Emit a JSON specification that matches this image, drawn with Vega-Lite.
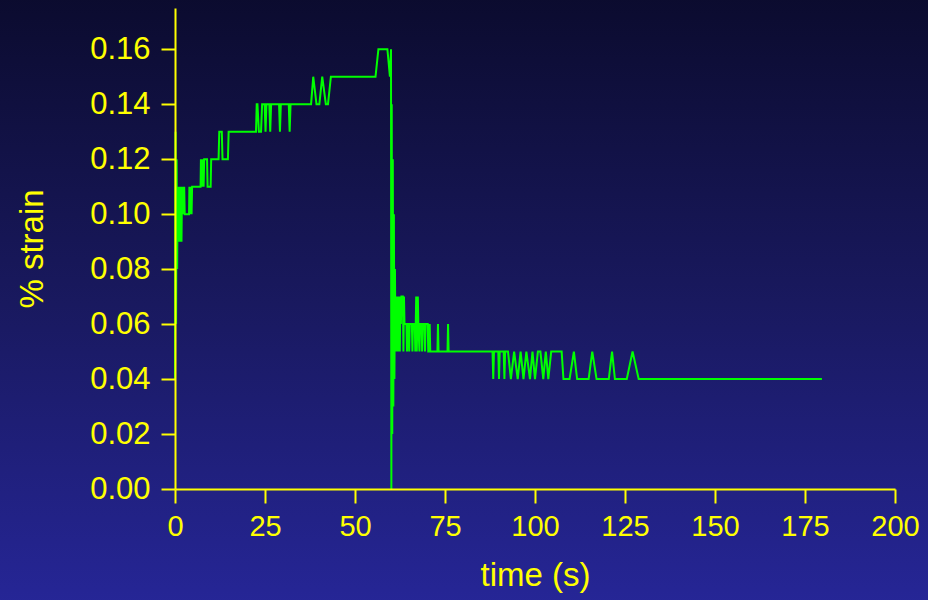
{
  "$schema": "https://vega.github.io/schema/vega-lite/v6.json",
  "width": 720,
  "height": 481,
  "autosize": {"type": "none"},
  "padding": {"left": 175, "top": 8, "right": 33, "bottom": 111},
  "background": "#181862",
  "config": {
    "view": {"stroke": null},
    "axis": {
      "domainColor": "#ffff00", "domainWidth": 2,
      "tickColor": "#ffff00", "tickWidth": 2, "tickSize": 14,
      "labelColor": "#ffff00", "titleColor": "#ffff00",
      "labelFont": "Liberation Sans", "titleFont": "Liberation Sans",
      "labelFontSize": 28, "titleFontSize": 33, "titleFontWeight": "normal",
      "grid": false, "labelFlush": false, "labelOverlap": false
    }
  },
  "layer": [
    {
      "data": {"values": [{}]},
      "mark": {
        "type": "rect",
        "fill": {"gradient": "linear", "x1": 0, "y1": 0, "x2": 0, "y2": 1,
          "stops": [{"offset": 0, "color": "#0b0b2e"}, {"offset": 0.5, "color": "#19195f"}, {"offset": 1, "color": "#262698"}]}
      },
      "encoding": {
        "x": {"datum": -50, "type": "quantitative",
          "scale": {"domain": [0, 200], "nice": false, "zero": false},
          "axis": {"title": "time (s)", "values": [0, 25, 50, 75, 100, 125, 150, 175, 200], "labelFontSize": 29, "labelPadding": 9, "titleFontSize": 33, "titlePadding": 18, "zindex": 2}},
        "x2": {"datum": 212},
        "y": {"datum": -0.045, "type": "quantitative",
          "scale": {"domain": [0, 0.175], "nice": false, "zero": false},
          "axis": {"title": "% strain", "values": [0, 0.02, 0.04, 0.06, 0.08, 0.1, 0.12, 0.14, 0.16], "format": ".2f", "labelPadding": 11, "labelFontSize": 31, "titlePadding": 40, "zindex": 2}},
        "y2": {"datum": 0.18}
      }
    },
    {
      "data": {"values": [
        {"t":0,"s":0.04},{"t":0.15,"s":0.13},{"t":0.3,"s":0.06},{"t":0.45,"s":0.12},{"t":0.6,"s":0.08},{"t":0.75,"s":0.11},{"t":0.9,"s":0.09},{"t":1.05,"s":0.11},{"t":1.2,"s":0.09},{"t":1.35,"s":0.11},{"t":1.5,"s":0.09},{"t":1.65,"s":0.11},{"t":1.8,"s":0.09},{"t":1.95,"s":0.11},{"t":2.1,"s":0.10},{"t":2.25,"s":0.11},{"t":2.4,"s":0.10},{"t":2.55,"s":0.11},{"t":2.7,"s":0.10},{"t":3.9,"s":0.10},{"t":4.0,"s":0.11},{"t":4.1,"s":0.10},{"t":4.25,"s":0.11},{"t":4.35,"s":0.10},{"t":4.5,"s":0.11},{"t":4.6,"s":0.10},{"t":4.75,"s":0.11},{"t":7.1,"s":0.11},{"t":7.2,"s":0.12},{"t":7.35,"s":0.11},{"t":7.5,"s":0.12},{"t":7.65,"s":0.11},{"t":7.8,"s":0.12},{"t":7.95,"s":0.11},{"t":8.1,"s":0.12},{"t":8.9,"s":0.12},{"t":9.05,"s":0.11},{"t":9.9,"s":0.11},{"t":10.05,"s":0.12},{"t":12.1,"s":0.12},{"t":12.3,"s":0.13},{"t":13.0,"s":0.13},{"t":13.2,"s":0.12},{"t":14.7,"s":0.12},{"t":14.9,"s":0.13},{"t":22.5,"s":0.13},{"t":22.7,"s":0.14},{"t":22.9,"s":0.14},{"t":23.3,"s":0.13},{"t":23.9,"s":0.13},{"t":24.2,"s":0.14},{"t":24.9,"s":0.14},{"t":25.15,"s":0.13},{"t":25.4,"s":0.14},{"t":26.2,"s":0.14},{"t":26.45,"s":0.13},{"t":26.7,"s":0.14},{"t":28.9,"s":0.14},{"t":29.15,"s":0.13},{"t":29.4,"s":0.14},{"t":31.6,"s":0.14},{"t":31.85,"s":0.13},{"t":32.1,"s":0.14},{"t":37.8,"s":0.14},{"t":38.4,"s":0.15},{"t":39.3,"s":0.14},{"t":40.1,"s":0.14},{"t":40.9,"s":0.15},{"t":41.9,"s":0.14},{"t":42.5,"s":0.14},{"t":43.3,"s":0.15},{"t":55.7,"s":0.15},{"t":56.5,"s":0.16},{"t":59.0,"s":0.16},{"t":59.7,"s":0.15},{"t":60.0,"s":0.16},{"t":60.1,"s":0.0},{"t":60.2,"s":0.14},{"t":60.35,"s":0.02},{"t":60.5,"s":0.12},{"t":60.65,"s":0.03},{"t":60.8,"s":0.10},{"t":60.95,"s":0.04},{"t":61.1,"s":0.08},{"t":61.25,"s":0.05},{"t":61.4,"s":0.07},{"t":61.55,"s":0.05},{"t":61.7,"s":0.07},{"t":61.85,"s":0.06},{"t":62.0,"s":0.05},{"t":62.15,"s":0.07},{"t":62.3,"s":0.06},{"t":62.45,"s":0.05},{"t":62.6,"s":0.07},{"t":62.75,"s":0.06},{"t":62.9,"s":0.07},{"t":63.3,"s":0.07},{"t":63.45,"s":0.05},{"t":63.6,"s":0.07},{"t":63.75,"s":0.06},{"t":64.3,"s":0.06},{"t":64.45,"s":0.05},{"t":64.6,"s":0.06},{"t":64.9,"s":0.06},{"t":65.05,"s":0.05},{"t":65.2,"s":0.06},{"t":65.8,"s":0.06},{"t":65.95,"s":0.05},{"t":66.1,"s":0.06},{"t":66.6,"s":0.06},{"t":66.75,"s":0.05},{"t":67.0,"s":0.07},{"t":67.15,"s":0.05},{"t":67.45,"s":0.07},{"t":67.6,"s":0.06},{"t":67.9,"s":0.05},{"t":68.05,"s":0.06},{"t":68.5,"s":0.06},{"t":68.65,"s":0.05},{"t":68.8,"s":0.06},{"t":69.3,"s":0.06},{"t":69.45,"s":0.05},{"t":69.6,"s":0.06},{"t":70.2,"s":0.06},{"t":70.35,"s":0.05},{"t":70.6,"s":0.05},{"t":70.75,"s":0.06},{"t":70.9,"s":0.05},{"t":72.9,"s":0.05},{"t":73.05,"s":0.06},{"t":73.2,"s":0.05},{"t":75.7,"s":0.05},{"t":75.85,"s":0.06},{"t":76.0,"s":0.05},{"t":88.2,"s":0.05},{"t":88.4,"s":0.04},{"t":88.6,"s":0.05},{"t":89.8,"s":0.05},{"t":90.0,"s":0.04},{"t":90.2,"s":0.05},{"t":91.3,"s":0.05},{"t":91.5,"s":0.04},{"t":91.7,"s":0.05},{"t":92.5,"s":0.05},{"t":93.3,"s":0.04},{"t":94.2,"s":0.05},{"t":95.2,"s":0.04},{"t":96.0,"s":0.05},{"t":96.8,"s":0.04},{"t":97.6,"s":0.05},{"t":98.6,"s":0.04},{"t":99.3,"s":0.05},{"t":100.0,"s":0.04},{"t":100.8,"s":0.05},{"t":101.5,"s":0.05},{"t":102.3,"s":0.04},{"t":103.0,"s":0.05},{"t":103.7,"s":0.04},{"t":104.5,"s":0.05},{"t":107.4,"s":0.05},{"t":107.9,"s":0.04},{"t":109.6,"s":0.04},{"t":110.8,"s":0.05},{"t":111.7,"s":0.04},{"t":114.9,"s":0.04},{"t":115.9,"s":0.05},{"t":117.1,"s":0.04},{"t":120.5,"s":0.04},{"t":121.4,"s":0.05},{"t":122.2,"s":0.04},{"t":125.5,"s":0.04},{"t":127.1,"s":0.05},{"t":128.8,"s":0.04},{"t":179.7,"s":0.04}
      ]},
      "mark": {"type": "line", "color": "#00ff00", "strokeWidth": 2},
      "encoding": {
        "x": {"field": "t", "type": "quantitative"},
        "y": {"field": "s", "type": "quantitative"}
      }
    }
  ]
}
